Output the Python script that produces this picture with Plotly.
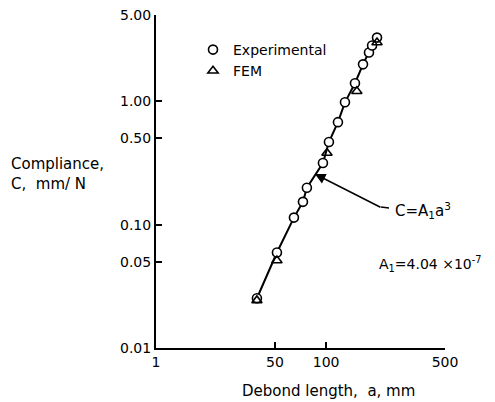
import math
import plotly.graph_objects as go

# Experimental (circles)
exp_a = [39.2, 51.4, 64.7, 73.1, 77.1, 95.8, 103.9, 117.4, 129.1, 147.8, 164.8, 178.7, 186.3, 199.2]
exp_c = [0.0253, 0.0594, 0.114, 0.153, 0.199, 0.316, 0.467, 0.677, 0.98, 1.40, 1.99, 2.48, 2.83, 3.28]

# FEM (triangles)
fem_a = [39.2, 51.4, 101.2, 151.6, 199.2]
fem_c = [0.0243, 0.0512, 0.381, 1.205, 2.99]

A1 = 4.04e-7
arrow_a = 86.0

x_tickvals = [10, 50, 100, 500]
x_ticktext = ["1", "50", "100", "500"]
y_tickvals = [0.01, 0.05, 0.10, 0.50, 1.00, 5.00]
y_ticktext = ["0.01", "0.05", "0.10", "0.50", "1.00", "5.00"]

FONT = "DejaVu Sans"
L, T, W, H = 156, 15, 289, 333


def px(x):
    return (x - L) / W


def py(y):
    return (T + H - y) / H


fig = go.Figure()
fig.add_trace(go.Scatter(x=exp_a, y=exp_c, mode="lines", line=dict(color="black", width=2),
                         showlegend=False, hoverinfo="skip"))
fig.add_trace(go.Scatter(x=exp_a, y=exp_c, mode="markers", name="Experimental",
                         marker=dict(symbol="circle", size=9, color="white",
                                     line=dict(color="black", width=1.6))))
fig.add_trace(go.Scatter(x=fem_a, y=fem_c, mode="markers", name="FEM",
                         marker=dict(symbol="triangle-up-open", size=9, color="black",
                                     line=dict(color="black", width=1.6))))

fig.update_xaxes(type="log", range=[1, math.log10(500)], tickvals=x_tickvals, ticktext=x_ticktext,
                 ticks="inside", ticklen=6, tickwidth=1.5, tickcolor="black", automargin=False,
                 showline=True, linecolor="black", linewidth=2, showgrid=False, zeroline=False,
                 tickfont=dict(family=FONT, size=14, color="black"))
fig.update_yaxes(type="log", range=[-2, math.log10(5)], tickvals=y_tickvals, ticktext=y_ticktext,
                 ticks="inside", ticklen=6, tickwidth=1.5, tickcolor="black", automargin=False,
                 showline=True, linecolor="black", linewidth=2, showgrid=False, zeroline=False,
                 tickfont=dict(family=FONT, size=14, color="black"))

fig.add_annotation(xref="paper", yref="paper", x=px(328), y=py(391),
                   xanchor="center", yanchor="middle", showarrow=False,
                   text="Debond length,  a, mm", font=dict(family=FONT, size=15, color="black"))

fig.add_annotation(xref="paper", yref="paper", x=px(9), y=py(174),
                   xanchor="left", yanchor="middle", align="left", showarrow=False,
                   text="Compliance,<br>C,  mm/ N", font=dict(family=FONT, size=15, color="black"))

fig.add_annotation(x=math.log10(arrow_a), y=math.log10(A1 * arrow_a ** 3), text="",
                   showarrow=True, ax=67, ay=34, axref="pixel", ayref="pixel",
                   arrowhead=2, arrowsize=1.4, arrowwidth=1.5, arrowcolor="black")
fig.add_shape(type="line", xref="paper", yref="paper",
              x0=px(381), y0=py(207), x1=px(389), y1=py(208),
              line=dict(color="black", width=1.5))

fig.add_annotation(xref="paper", yref="paper", x=px(393), y=py(210),
                   xanchor="left", yanchor="middle", showarrow=False,
                   text="C=A<sub>1</sub>a<sup>3</sup>", font=dict(family=FONT, size=15, color="black"))
fig.add_annotation(xref="paper", yref="paper", x=px(377), y=py(264),
                   xanchor="left", yanchor="middle", showarrow=False,
                   text="A<sub>1</sub>=4.04 ×10<sup>-7</sup>", font=dict(family=FONT, size=14, color="black"))

fig.update_layout(
    width=495, height=402,
    margin=dict(l=L, r=495 - L - W, t=T, b=402 - T - H, autoexpand=False),
    paper_bgcolor="white", plot_bgcolor="white",
    showlegend=True,
    legend=dict(x=px(193), y=py(34), xanchor="left", yanchor="top",
                bgcolor="rgba(0,0,0,0)", itemwidth=30, tracegroupgap=0,
                font=dict(family=FONT, size=14, color="black")),
)

fig.write_html("out.html", config={"displayModeBar": False},
               post_script="document.body.style.margin='0';document.body.style.overflow='hidden';")
